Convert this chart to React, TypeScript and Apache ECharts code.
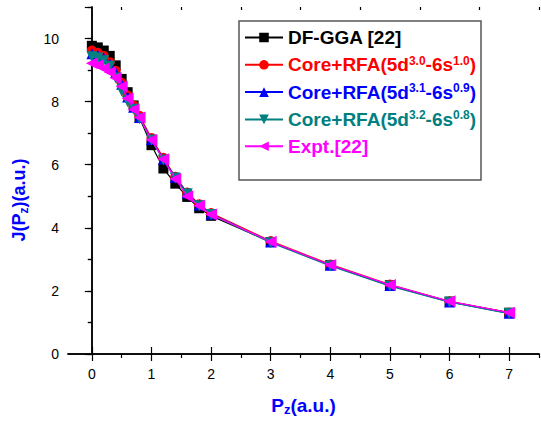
import React, { useEffect, useRef } from 'react';
import * as echarts from 'echarts';

const pz = [0, 0.1, 0.2, 0.3, 0.4, 0.5, 0.6, 0.7, 0.8, 1.0, 1.2, 1.4, 1.6, 1.8, 2.0, 3, 4, 5, 6, 7];
const dfGGA = [9.77, 9.72, 9.62, 9.45, 9.15, 8.72, 8.3, 7.88, 7.48, 6.62, 5.88, 5.4, 4.98, 4.62, 4.38, 3.55, 2.82, 2.18, 1.66, 1.31];
const rfa30 = [9.62, 9.55, 9.45, 9.25, 8.98, 8.6, 8.2, 7.88, 7.55, 6.85, 6.22, 5.62, 5.12, 4.75, 4.47, 3.58, 2.84, 2.2, 1.67, 1.31];
const rfa31 = [9.52, 9.47, 9.38, 9.2, 8.92, 8.55, 8.15, 7.82, 7.5, 6.8, 6.18, 5.6, 5.1, 4.72, 4.44, 3.55, 2.81, 2.17, 1.65, 1.29];
const rfa32 = [9.42, 9.38, 9.3, 9.12, 8.75, 8.34, 8.0, 7.76, 7.46, 6.78, 6.15, 5.58, 5.08, 4.7, 4.42, 3.53, 2.79, 2.15, 1.64, 1.28];
const expt = [9.22, 9.15, 9.05, 8.93, 8.75, 8.48, 8.1, 7.75, 7.5, 6.78, 6.17, 5.55, 5.0, 4.7, 4.42, 3.56, 2.82, 2.19, 1.67, 1.31];

const xMajor = [0, 1, 2, 3, 4, 5, 6, 7];
const xMinor = [0.5, 1.5, 2.5, 3.5, 4.5, 5.5, 6.5, 7.5];
const yMinor = [1, 3, 5, 7, 9];

const FONT = '"Liberation Sans", Arial, sans-serif';

const seriesDefs = [
  { name: 'DF-GGA [22]', data: dfGGA, color: '#000000', symbol: 'rect', rotate: 0, size: 10, key: 'k', label: ['DF-GGA [22]'] },
  { name: 'Core+RFA(5d3.0-6s1.0)', data: rfa30, color: '#ff0000', symbol: 'circle', rotate: 0, size: 10, key: 'r', label: ['Core+RFA(5d', '3.0', '-6s', '1.0', ')'] },
  { name: 'Core+RFA(5d3.1-6s0.9)', data: rfa31, color: '#0000ff', symbol: 'triangle', rotate: 0, size: 11, key: 'b', label: ['Core+RFA(5d', '3.1', '-6s', '0.9', ')'] },
  { name: 'Core+RFA(5d3.2-6s0.8)', data: rfa32, color: '#008080', symbol: 'triangle', rotate: 180, size: 11, key: 't', label: ['Core+RFA(5d', '3.2', '-6s', '0.8', ')'] },
  { name: 'Expt.[22]', data: expt, color: '#ff00ff', symbol: 'triangle', rotate: 90, size: 12, key: 'm', label: ['Expt.[22]'] },
];

function buildRich() {
  const rich: Record<string, any> = {};
  seriesDefs.forEach((s) => {
    rich[s.key] = { color: s.color, fontSize: 19, fontWeight: 'bold', fontFamily: FONT, lineHeight: 20 };
    rich[s.key + 's'] = { color: s.color, fontSize: 12, fontWeight: 'bold', fontFamily: FONT, lineHeight: 9, verticalAlign: 'top' };
  });
  return rich;
}

function legendText(name: string) {
  const s = seriesDefs.find((d) => d.name === name);
  if (!s) return name;
  return s.label.map((part, i) => `{${s.key}${i % 2 === 1 ? 's' : ''}|${part}}`).join('');
}

export default function App() {
  const ref = useRef<HTMLDivElement>(null);
  useEffect(() => {
    if (!ref.current) return;
    const chart = echarts.init(ref.current, null, { renderer: 'svg' });
    const axisLine = { show: true, lineStyle: { color: '#000', width: 1.5 } };
    const option: any = {
      animation: false,
      backgroundColor: '#ffffff',
      grid: { left: 68, right: 2, top: 7, bottom: 66, containLabel: false },
      xAxis: [
        {
          type: 'value', position: 'bottom', min: -0.4, max: 7.5,
          axisLine,
          axisTick: { show: true, customValues: xMajor, length: 7, lineStyle: { color: '#000', width: 1.2 } },
          axisLabel: { show: true, customValues: xMajor, color: '#000', fontSize: 14, fontFamily: FONT, margin: 13 },
          splitLine: { show: false },
          name: '{n|P}{s|z}{n|(a.u.)}', nameLocation: 'middle', nameGap: 40,
          nameTextStyle: {
            rich: {
              n: { color: '#0000ff', fontSize: 19, fontWeight: 'bold', fontFamily: FONT, lineHeight: 22 },
              s: { color: '#0000ff', fontSize: 13, fontWeight: 'bold', fontFamily: FONT, lineHeight: 10, verticalAlign: 'bottom' },
            },
          },
        },
        {
          type: 'value', position: 'bottom', min: -0.4, max: 7.5,
          axisLine: { show: false },
          axisTick: { show: true, customValues: xMinor, length: 4, lineStyle: { color: '#000', width: 1.2 } },
          axisLabel: { show: false }, splitLine: { show: false },
        },
        {
          type: 'value', position: 'top', min: -0.4, max: 7.5,
          axisLine,
          axisTick: { show: true, customValues: xMajor, length: 7, lineStyle: { color: '#000', width: 1.2 } },
          axisLabel: { show: false }, splitLine: { show: false },
        },
        {
          type: 'value', position: 'top', min: -0.4, max: 7.5,
          axisLine: { show: false },
          axisTick: { show: true, inside: true, customValues: xMinor, length: 3, lineStyle: { color: '#000', width: 1.2 } },
          axisLabel: { show: false }, splitLine: { show: false },
        },
      ],
      yAxis: [
        {
          type: 'value', position: 'left', min: 0, max: 11, interval: 2,
          axisLine,
          axisTick: { show: true, length: 7, lineStyle: { color: '#000', width: 1.2 } },
          axisLabel: { show: true, color: '#000', fontSize: 14, fontFamily: FONT, margin: 9, formatter: (v: number) => (v > 10 ? '' : String(v)) },
          splitLine: { show: false },
        },
        {
          type: 'value', position: 'left', min: 0, max: 11,
          axisLine: { show: false },
          axisTick: { show: true, customValues: yMinor, length: 4, lineStyle: { color: '#000', width: 1.2 } },
          axisLabel: { show: false }, splitLine: { show: false },
        },
        {
          type: 'value', position: 'right', min: 0, max: 11, interval: 1,
          axisLine,
          axisTick: { show: true, inside: true, length: 4, lineStyle: { color: '#000', width: 1.2 } },
          axisLabel: { show: false }, splitLine: { show: false },
        },
      ],
      legend: {
        orient: 'vertical', left: 244, top: 28, padding: 0,
        itemWidth: 38, itemHeight: 12, itemGap: 7.8,
        data: seriesDefs.map((s) => s.name),
        formatter: legendText,
        textStyle: { fontSize: 19, fontWeight: 'bold', fontFamily: FONT, rich: buildRich() },
        z: 10,
      },
      graphic: [
        {
          type: 'rect', z: 5, zlevel: 0,
          shape: { x: 239, y: 21, width: 242, height: 159 },
          style: { fill: '#ffffff', stroke: '#555555', lineWidth: 1.5 },
        },
        {
          type: 'text', x: 19, y: 200, rotation: Math.PI / 2, z: 10,
          style: {
            text: '{n|J(P}{s|z}{n|)(a.u.)}',
            align: 'center', verticalAlign: 'middle',
            rich: {
              n: { fill: '#0000ff', fontSize: 18, fontWeight: 'bold', fontFamily: FONT, lineHeight: 22 },
              s: { fill: '#0000ff', fontSize: 12, fontWeight: 'bold', fontFamily: FONT, lineHeight: 10, verticalAlign: 'bottom' },
            },
          },
        },
      ],
      series: seriesDefs.map((s, i) => ({
        name: s.name,
        type: 'line',
        xAxisIndex: 0,
        yAxisIndex: 0,
        data: pz.map((x, j) => [x, s.data[j]]),
        symbol: s.symbol,
        symbolSize: s.size,
        symbolRotate: s.rotate,
        showSymbol: true,
        lineStyle: { color: s.color, width: 1.2 },
        itemStyle: { color: s.color },
        z: 2 + i,
      })),
    };
    chart.setOption(option);
    return () => chart.dispose();
  }, []);
  return <div ref={ref} style={{ position: 'fixed', left: 0, top: 0, width: 541, height: 421 }} />;
}
